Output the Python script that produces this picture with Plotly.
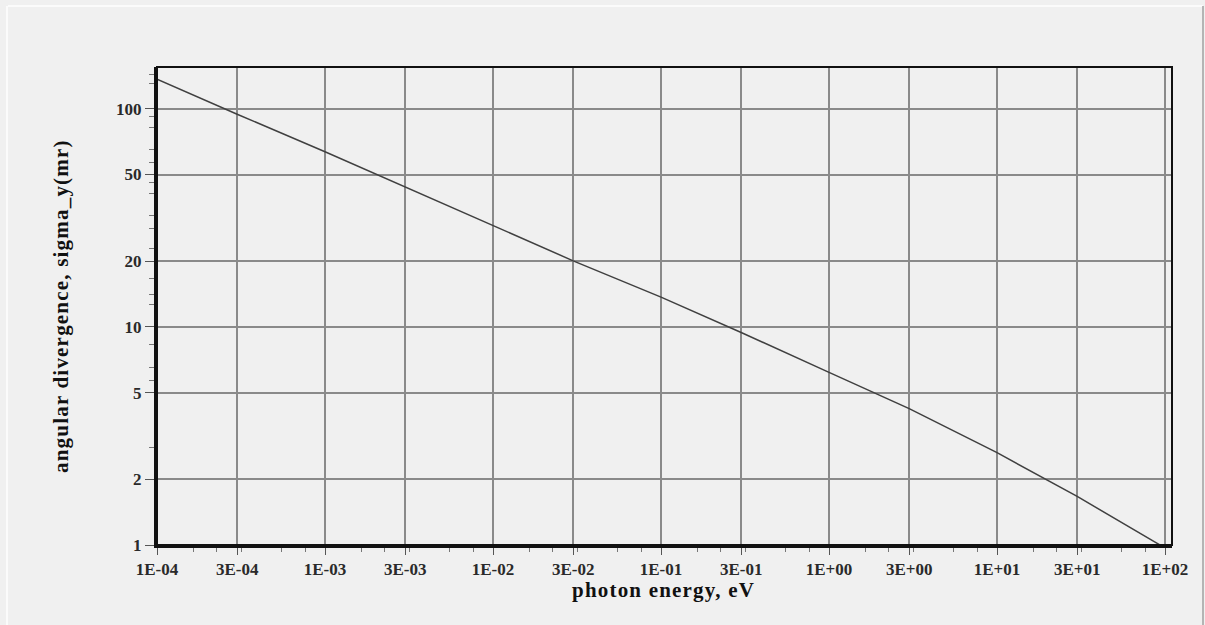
import plotly.graph_objects as go
import numpy as np

# Data (photon energy in eV, angular divergence in mr)
energy = [1e-4, 3e-4, 1e-3, 3e-3, 1e-2, 3e-2, 1e-1, 3e-1, 1e0, 3e0, 1e1, 3e1, 89.3, 100]
sigma_y = [136.8, 94.5, 63.6, 43.9, 29.3, 20.1, 13.7, 9.43, 6.19, 4.22, 2.65, 1.67, 1.02, 0.97]

x_tickvals = [1e-4, 3e-4, 1e-3, 3e-3, 1e-2, 3e-2, 1e-1, 3e-1, 1e0, 3e0, 1e1, 3e1, 1e2]
x_ticktext = ["1E-04", "3E-04", "1E-03", "3E-03", "1E-02", "3E-02", "1E-01", "3E-01",
              "1E+00", "3E+00", "1E+01", "3E+01", "1E+02"]
y_tickvals = [1, 2, 5, 10, 20, 50, 100]
y_ticktext = ["1", "2", "5", "10", "20", "50", "100"]

x_minor_mult = [0.77, 1.64, 2.27, 3.2, 5.5, 7.7]
x_minor = [m * 10.0 ** d for d in range(-4, 3) for m in x_minor_mult]
x_minor = [v for v in x_minor if 1e-4 < v < 110]
y_minor = [2.8, 5.7, 6.5, 8.3, 12.7, 14.1, 16.6, 22.9, 28.4, 32.6, 41, 45.8, 56.6,
           64.8, 82, 92, 131, 144]

W, H = 1205, 625
L, R, T, B = 157, 1172, 67, 545
def px(x):
    return (x - L) / (R - L)
def py(y):
    return (B - y) / (B - T)

def spaced(s, sp):
    return '<span style="letter-spacing:%spx">%s</span>' % (sp, s)

fig = go.Figure()
fig.add_trace(go.Scatter(x=energy, y=sigma_y, mode="lines",
                         line=dict(color="#404040", width=1.5),
                         showlegend=False, hoverinfo="skip"))

tickfont = dict(family="Liberation Serif", size=17, color="#2a2a2a", weight="bold")

fig.update_layout(
    width=W, height=H,
    margin=dict(l=L, r=W - R, t=T, b=H - B),
    paper_bgcolor="#f0f0f0", plot_bgcolor="#f0f0f0",
    xaxis=dict(type="log", range=[-4, np.log10(110)],
               tickvals=x_tickvals, ticktext=x_ticktext,
               tickfont=tickfont,
               showgrid=True, gridcolor="#8a8a8a", gridwidth=2,
               ticks="outside", ticklen=7, tickcolor="#555555", tickwidth=1,
               showline=True, linecolor="#111111", linewidth=3,
               zeroline=False,
               minor=dict(tickvals=x_minor, ticks="outside", ticklen=4,
                          tickcolor="#777777", showgrid=False)),
    yaxis=dict(type="log", range=[0, 2.192],
               tickvals=y_tickvals, ticktext=y_ticktext,
               tickfont=tickfont,
               showgrid=True, gridcolor="#8a8a8a", gridwidth=2,
               ticks="outside", ticklen=9, tickcolor="#555555", tickwidth=1,
               showline=True, linecolor="#111111", linewidth=3,
               zeroline=False,
               minor=dict(tickvals=y_minor, ticks="outside", ticklen=5,
                          tickcolor="#777777", showgrid=False)),
    shapes=[
        dict(type="rect", xref="paper", yref="paper", x0=0, x1=1, y0=0, y1=1,
             line=dict(color="#111111", width=2), layer="above"),
        dict(type="line", xref="paper", yref="paper", x0=px(8), x1=px(1203),
             y0=py(6), y1=py(6), line=dict(color="#fbfbfb", width=2)),
        dict(type="line", xref="paper", yref="paper", x0=px(7), x1=px(7),
             y0=py(6), y1=py(625), line=dict(color="#fbfbfb", width=2)),
        dict(type="line", xref="paper", yref="paper", x0=px(1203), x1=px(1203),
             y0=py(6), y1=py(625), line=dict(color="#a0a0a0", width=1.5)),
    ],
    annotations=[
        dict(text=spaced("photon energy, eV", 1.2), xref="paper", yref="paper",
             x=px(663), y=py(590), showarrow=False, xanchor="center", yanchor="middle",
             font=dict(family="Liberation Serif", size=21, color="#111111", weight="bold")),
        dict(text=spaced("angular divergence, sigma_y(mr)", 1.2), xref="paper", yref="paper",
             x=px(61), y=0.5, showarrow=False, textangle=-90,
             xanchor="center", yanchor="middle",
             font=dict(family="Liberation Serif", size=21, color="#111111", weight="bold")),
    ],
)

fig.write_html("out.html")
